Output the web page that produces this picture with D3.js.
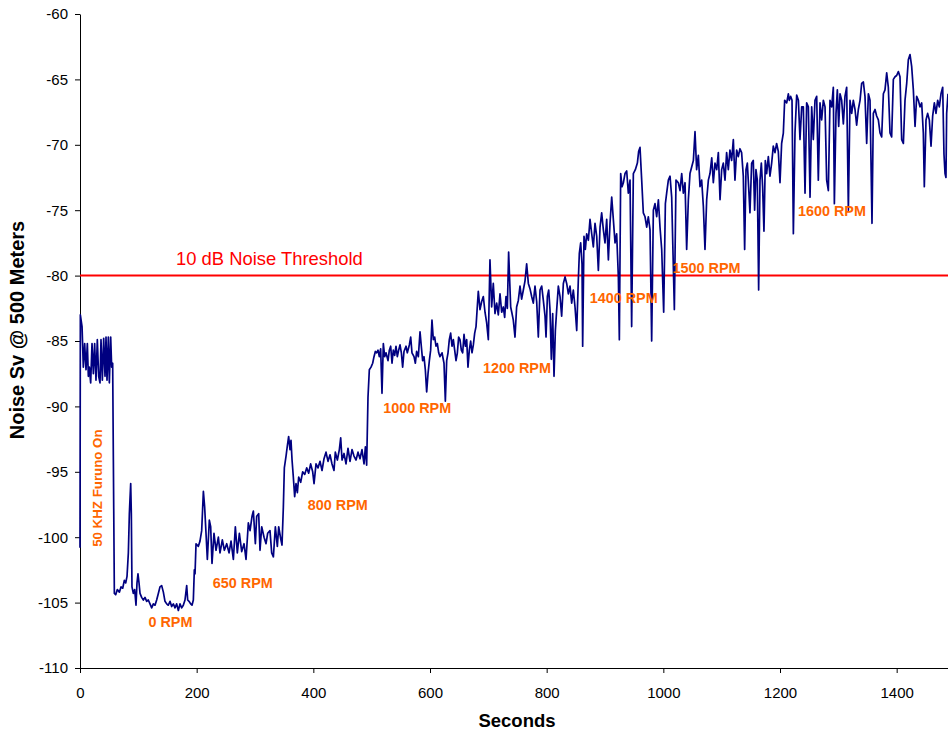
<!DOCTYPE html>
<html>
<head>
<meta charset="utf-8">
<script src="https://cdn.jsdelivr.net/npm/d3@7"></script>
<style>
  body { margin: 0; background: #fff; }
  svg { display: block; font-family: Arial, "Liberation Sans", sans-serif; }
</style>
</head>
<body>
<div id="container"></div>
<script>
/* CONSTANTS AND GLOBALS */
const width = 948,
  height = 732,
  margin = { top: 14, bottom: 64, left: 80, right: 0 };

/* DATA : [seconds, noise Sv dB] */
const furunoOn = [[0,-100.8],[0.6,-83.0],[3.5,-83.9],[5.7,-87.0],[8,-85.2],[10.3,-87.2],[12.6,-85.2],[14.3,-87.7],[16,-87.0],[18.3,-88.2],[20.6,-85.2],[22.9,-87.5],[25.1,-85.2],[27.4,-88.0],[29.7,-84.9],[32,-87.7],[34.3,-88.2],[36,-84.9],[38.3,-88.0],[40.6,-84.8],[42.9,-87.7],[44.6,-84.7],[46.3,-88.0],[48.6,-84.7],[50.3,-88.2],[52.6,-84.7],[54.3,-87.0],[56,-86.7],[57.2,-94.1]];

const rpm0 = [[58.9,-104.3],[61.2,-104.4],[64,-104.0],[67.5,-104.2],[70.3,-103.8],[73.2,-103.9],[76,-103.3],[78.3,-103.5],[80.6,-103.0],[82.9,-101.2],[84.6,-98.2],[86.9,-95.9],[88,-98.2],[89.1,-103.8],[91.4,-104.3],[93.7,-104.0],[96,-105.2],[97.7,-103.5],[99.4,-102.8],[101.2,-103.5],[102.9,-104.3],[105.7,-104.6],[108.6,-104.8],[111.4,-104.6],[114.3,-104.9],[117.1,-104.8],[120,-105.1],[122.9,-105.4],[125.7,-105.1],[128.6,-105.2],[131.4,-104.8],[134.3,-104.3],[137.1,-103.8],[140,-103.7],[142.9,-104.2],[145.7,-104.9],[148.6,-105.1],[151.4,-105.2],[154.3,-104.9],[157.1,-105.3],[160,-105.1],[162.9,-105.4],[165.7,-105.1],[168.6,-105.6],[171.4,-105.1],[174.3,-105.4],[177.1,-105.2],[180,-104.8],[182.9,-103.7],[184.6,-104.8],[186.9,-104.9],[189.7,-105.1],[192,-105.2],[194.3,-104.8],[196,-102.5]];

const rpm650 = [[197.2,-102.8],[198.9,-100.5],[202.9,-100.7],[205.7,-100.3],[208.6,-99.5],[211.5,-96.5],[213.7,-97.7],[216,-99.7],[218.3,-101.7],[221.7,-98.7],[224,-99.2],[226.3,-102.0],[229.7,-99.7],[233.2,-101.0],[237.2,-100.0],[240,-101.2],[244,-100.2],[247.5,-101.0],[251.5,-100.5],[255.5,-101.2],[258.9,-100.3],[262.9,-101.7],[266.3,-99.2],[269.7,-101.2],[273.2,-99.7],[277.2,-101.1],[281.2,-100.5],[284.6,-101.7],[288.6,-98.9],[291.5,-99.5],[294.9,-98.4],[297.2,-98.0],[300.6,-100.5],[302.9,-98.4],[306.3,-98.2],[308.6,-101.0],[311.5,-99.2],[315.5,-100.0],[318.9,-100.5],[321.7,-99.7],[325.7,-99.5],[328.6,-101.2],[331.5,-101.5],[334.9,-99.2],[338.3,-100.7],[340.6,-99.2],[344,-100.1],[346.3,-100.6],[348.6,-97.7]];

const rpm800 = [[350.3,-94.7],[353.2,-93.8],[355.5,-93.0],[357.7,-92.3],[360,-93.3],[361.7,-92.6],[363.5,-94.1],[365.7,-95.4],[368,-96.9],[370.3,-95.9],[372.6,-96.6],[374.9,-95.4],[378.3,-95.8],[381.7,-95.0],[385.2,-95.2],[388.6,-94.7],[392,-95.1],[395.4,-94.4],[398.9,-95.0],[401.2,-95.9],[404.6,-94.4],[408,-94.7],[411.5,-94.2],[414.9,-94.9],[418.3,-94.0],[421.7,-93.5],[425.2,-94.2],[428.6,-93.7],[432,-94.4],[435.4,-94.9],[437.7,-93.5],[441.2,-94.1],[444.6,-93.3],[446.9,-92.4],[449.2,-94.1],[452.6,-93.6],[456,-94.4],[459.4,-93.2],[462.9,-94.2],[466.3,-93.3],[469.7,-93.8],[473.2,-94.1],[476.6,-93.5],[480,-94.0],[483.4,-93.3],[486.9,-94.4],[489.2,-93.1],[491.4,-94.5],[493.7,-89.3]];

const rpm1000 = [[496,-87.2],[498.9,-87.0],[501.7,-86.7],[504,-86.2],[506.3,-85.8],[508.6,-85.9],[510.9,-85.7],[513.1,-86.2],[515.4,-85.6],[517.7,-89.0],[520,-85.2],[522.3,-86.2],[524.6,-85.9],[528,-86.5],[530.3,-85.7],[532.6,-85.4],[534.9,-86.7],[537.1,-85.7],[539.4,-86.1],[541.7,-85.4],[544,-86.2],[546.3,-85.7],[548.6,-85.3],[550.9,-85.9],[553.1,-87.0],[555.4,-85.8],[558.9,-85.4],[561.1,-85.9],[564.6,-85.3],[566.9,-84.7],[569.1,-85.9],[572.6,-86.2],[574.9,-86.7],[577.1,-85.8],[580,-86.2],[582.9,-84.3],[585.1,-85.4],[587.4,-86.5],[589.7,-86.2],[592,-87.2],[594.3,-88.9],[596.6,-87.5],[598.9,-86.5],[601.1,-85.7],[603.4,-83.4],[605.7,-84.9],[608,-84.7],[610.3,-85.4],[612.6,-85.2],[614.9,-85.9],[617.1,-86.2],[620.6,-85.9],[624,-86.7],[626.3,-89.6],[628.6,-86.5],[630.9,-85.9],[633.1,-84.9],[635.4,-84.4],[637.7,-85.4],[640,-84.9],[642.3,-85.7],[644.6,-86.5],[646.9,-85.9],[649.1,-84.7],[651.4,-84.9],[653.7,-85.7],[656,-85.9],[658.3,-84.5],[660.6,-85.4],[662.9,-84.9],[665.1,-87.0],[667.4,-85.7],[669.7,-85.0],[672,-85.9],[674.3,-85.3],[676.6,-84.4],[678.9,-83.9]];

const rpm1200 = [[682.8,-81.2],[685.7,-82.6],[688.5,-82.0],[691.4,-81.6],[694.3,-82.8],[697.1,-83.6],[700,-84.9],[702.8,-78.8],[705.7,-82.4],[708.5,-80.6],[711.4,-82.9],[714.3,-82.1],[717.1,-83.0],[720,-81.4],[722.9,-82.8],[725.7,-82.4],[728,-83.2],[730.3,-81.6],[732.6,-82.5],[734.8,-78.2],[738.3,-82.4],[740.6,-82.9],[742.8,-83.4],[745.7,-84.7],[748.5,-82.4],[751.4,-81.9],[754.3,-80.8],[757.1,-81.8],[760,-81.1],[762.9,-80.4],[765.7,-79.1],[768.6,-80.6],[771.4,-81.0],[774.3,-81.6],[777.1,-82.1],[780,-80.8],[782.9,-82.0],[785.7,-84.7],[788.6,-81.1],[791.5,-80.8],[794.3,-81.9],[797.2,-83.1],[798.9,-84.7],[801.2,-81.6],[803.5,-81.1],[805.7,-82.6],[808,-86.4],[810.3,-82.9],[812.6,-87.7],[814.9,-84.2],[817.2,-82.6],[820,-80.8],[822.9,-81.6],[825.7,-83.1],[828.6,-80.6],[831.5,-80.1],[834.3,-80.6],[837.2,-81.4],[840,-80.8],[842.9,-82.1],[845.7,-81.1],[848.6,-82.4],[851.5,-84.2],[854.3,-80.3]];

const rpm1400 = [[856,-78.3],[858.3,-77.5],[860.6,-79.1],[861.7,-85.4],[864,-77.0],[866.3,-78.0],[868.6,-76.8],[871.5,-77.3],[874.3,-75.7],[877.2,-76.8],[880,-77.8],[882.9,-76.0],[885.8,-77.0],[888.6,-79.6],[891.5,-76.3],[894.3,-75.2],[897.2,-76.5],[900,-77.5],[902.9,-75.7],[905.8,-78.8],[908.6,-76.0],[911.5,-74.0],[914.3,-75.7],[917.2,-77.5],[920,-76.8],[922.9,-80.1],[924.6,-84.9],[926.9,-72.2],[929.2,-73.2],[931.5,-72.9],[934.3,-72.2],[937.2,-72.0],[940,-73.7],[942.9,-72.7],[945.7,-83.9],[948.6,-72.2],[952,-71.9],[955.5,-71.4],[957.7,-70.5],[960,-70.2],[962.9,-72.7],[965.7,-75.2],[968.6,-75.5],[971.5,-76.3],[974.3,-75.5],[977.2,-76.5],[980,-85.0],[982.9,-75.0],[985.7,-74.5],[988.6,-75.5],[991.5,-74.2],[994.3,-76.3],[997.2,-78.0]];

const rpm1500 = [[1000.6,-82.8],[1003.5,-74.5],[1005.7,-73.7],[1008.6,-72.7],[1011.5,-72.4],[1014.3,-74.0],[1018.9,-82.6],[1021.7,-72.7],[1025.7,-72.9],[1028.6,-73.5],[1031.5,-72.2],[1034.3,-73.7],[1037.2,-72.9],[1040,-78.0],[1042.9,-74.2],[1045.7,-72.2],[1048.6,-71.7],[1051.5,-71.2],[1054.3,-69.0],[1057.1,-71.9],[1060,-70.8],[1062.9,-73.2],[1065.7,-72.7],[1068.6,-74.7],[1071.4,-78.0],[1074.3,-74.2],[1077.2,-72.7],[1080,-72.2],[1083,-71.0],[1085.7,-72.9],[1088.6,-71.4],[1091.5,-71.9],[1094.3,-70.6],[1097.2,-74.2],[1100,-71.9],[1102.8,-71.4],[1105.7,-72.7],[1108.5,-70.6],[1111.4,-71.9],[1114.2,-70.4],[1117.1,-71.2],[1120,-69.6],[1122.8,-72.7],[1125.7,-70.4],[1128.5,-70.9],[1131.4,-70.3],[1134.2,-70.6],[1137.1,-72.4],[1139.4,-78.0],[1141.7,-71.9],[1144,-71.4],[1146.2,-73.2],[1148.5,-75.2],[1151.4,-71.4],[1154.2,-71.2],[1156.5,-75.0],[1158.8,-71.9],[1161.1,-72.7],[1163.4,-81.1],[1165.7,-72.7],[1168,-71.4],[1170.2,-73.2],[1172.5,-76.6],[1174.8,-71.2],[1177.1,-72.2],[1180,-70.9],[1182.8,-72.4],[1185.7,-71.4],[1188.5,-70.1],[1191.4,-70.6],[1194.2,-69.9],[1197.1,-70.5],[1200,-72.9],[1202.8,-69.9],[1205.7,-69.1]];

const rpm1600 = [[1208,-66.6],[1211.5,-66.8],[1214.3,-66.1],[1216,-66.6],[1218.3,-66.3],[1220.6,-66.6],[1222.9,-76.8],[1225.7,-69.1],[1228.6,-66.2],[1231.5,-66.6],[1234.3,-69.6],[1237.2,-67.1],[1240,-67.1],[1242.9,-73.7],[1245.7,-66.8],[1248.6,-67.1],[1251.5,-74.0],[1254.3,-67.1],[1257.1,-69.6],[1260,-66.6],[1262.9,-66.3],[1265.7,-72.7],[1268.6,-66.8],[1271.4,-68.1],[1274.3,-66.6],[1277.2,-67.1],[1280,-72.7],[1282.9,-73.5],[1285.7,-66.6],[1288.6,-67.1],[1291.4,-65.6],[1293.2,-74.5],[1296,-67.6],[1298.3,-65.8],[1300.6,-68.6],[1302.9,-66.1],[1305.7,-66.6],[1308.6,-68.4],[1311.4,-66.3],[1314.3,-65.6],[1317.2,-75.0],[1320,-66.6],[1322.9,-67.6],[1325.7,-66.6],[1328.6,-67.3],[1331.4,-68.5],[1334.3,-67.3],[1337.2,-66.6],[1340,-65.3],[1342.9,-65.2],[1345.7,-66.3],[1348.6,-69.9],[1351.5,-66.1],[1354.3,-66.6],[1357.7,-76.0],[1360,-67.6],[1362.9,-67.3],[1365.7,-67.8],[1368.6,-68.1],[1371.5,-69.1],[1374.3,-69.4],[1377.2,-66.1],[1380,-65.8],[1382.9,-64.5],[1385.7,-65.6],[1388.6,-69.1],[1391.4,-69.4],[1394.3,-65.0],[1397.2,-64.8],[1400,-64.7],[1402.9,-64.4],[1405.7,-64.8],[1408.6,-69.6],[1411.5,-69.9],[1414.3,-66.6],[1417.2,-65.3],[1420,-63.5],[1422.9,-63.1],[1425.7,-64.0],[1428.6,-65.8],[1431.5,-68.6],[1434.3,-66.3],[1437.2,-66.6],[1440,-67.1],[1442.9,-66.8],[1445.7,-69.1],[1447.4,-73.2],[1450.3,-68.1],[1453.1,-67.6],[1456,-68.1],[1458.9,-70.1],[1461.7,-67.8],[1464.6,-66.8],[1467.4,-67.6],[1470.3,-66.6],[1473.1,-67.1],[1476,-66.1],[1478.9,-65.6],[1481.1,-70.7],[1482.9,-72.2],[1484.5,-72.5],[1485.7,-67.6],[1488,-66.1]];

const xTicks = [0, 200, 400, 600, 800, 1000, 1200, 1400];
const yTicks = [-110, -105, -100, -95, -90, -85, -80, -75, -70, -65, -60];
const threshold = -80;
const thresholdLabel = "10 dB Noise Threshold";

// annotation text + anchor in data units
const annotations = [
  { text: "0 RPM", t: 155, v: -106.9 },
  { text: "650 RPM", t: 279, v: -103.9 },
  { text: "800 RPM", t: 442, v: -97.9 },
  { text: "1000 RPM", t: 578, v: -90.5 },
  { text: "1200 RPM", t: 749, v: -87.45 },
  { text: "1400 RPM", t: 932, v: -82.1 },
  { text: "1500 RPM", t: 1074, v: -79.8 },
  { text: "1600 RPM", t: 1289, v: -75.45 }
];
const furunoLabel = { text: "50 KHZ Furuno On", t: 37.7, v: -96.25 };

const series = [].concat(furunoOn, rpm0, rpm650, rpm800, rpm1000, rpm1200, rpm1400, rpm1500, rpm1600);

/* SCALES */
const xScale = d3.scaleLinear()
  .domain([0, 1488])
  .range([margin.left, width - margin.right]);

const yScale = d3.scaleLinear()
  .domain([-110, -60])
  .range([height - margin.bottom, margin.top]);

/* HTML ELEMENTS */
const svg = d3.select("#container")
  .append("svg")
  .attr("width", width)
  .attr("height", height);

// axes (plain hyphen minus, no thousands separator)
const plain = d => String(d);

const xAxis = d3.axisBottom(xScale)
  .tickValues(xTicks)
  .tickFormat(plain)
  .tickSize(5)
  .tickSizeOuter(0)
  .tickPadding(14);
const gx = svg.append("g")
  .attr("transform", `translate(0, ${height - margin.bottom})`)
  .call(xAxis);

const yAxis = d3.axisLeft(yScale)
  .tickValues(yTicks)
  .tickFormat(plain)
  .tickSize(5)
  .tickSizeOuter(0)
  .tickPadding(7);
const gy = svg.append("g")
  .attr("transform", `translate(${margin.left}, 0)`)
  .call(yAxis);

[gx, gy].forEach(g => {
  g.selectAll("text").attr("font-size", 15).attr("font-family", "Arial, 'Liberation Sans', sans-serif").attr("fill", "#000");
  g.selectAll("line, path").attr("stroke", "#000");
});

// threshold line
svg.append("line")
  .attr("x1", xScale(0))
  .attr("x2", width)
  .attr("y1", yScale(threshold))
  .attr("y2", yScale(threshold))
  .attr("stroke", "#ff0000")
  .attr("stroke-width", 2);

svg.append("text")
  .attr("x", xScale(164.6))
  .attr("y", yScale(-79.2))
  .attr("fill", "#ff0000")
  .attr("font-size", 18.4)
  .text(thresholdLabel);

// noise line
const line = d3.line()
  .x(d => xScale(d[0]))
  .y(d => yScale(d[1]));

svg.append("path")
  .datum(series)
  .attr("d", line)
  .attr("fill", "none")
  .attr("stroke", "#000080")
  .attr("stroke-width", 1.7)
  .attr("stroke-linejoin", "round");

// rpm labels
svg.selectAll("text.rpm")
  .data(annotations)
  .join("text")
  .attr("class", "rpm")
  .attr("x", d => xScale(d.t))
  .attr("y", d => yScale(d.v))
  .attr("text-anchor", "middle")
  .attr("font-size", 14.4)
  .attr("font-weight", "bold")
  .attr("fill", "#ff6600")
  .text(d => d.text);

svg.append("text")
  .attr("transform", `translate(${xScale(furunoLabel.t)}, ${yScale(furunoLabel.v)}) rotate(-90)`)
  .attr("text-anchor", "middle")
  .attr("font-size", 13.3)
  .attr("font-weight", "bold")
  .attr("fill", "#ff6600")
  .text(furunoLabel.text);

// axis titles
svg.append("text")
  .attr("x", 517)
  .attr("y", 727)
  .attr("text-anchor", "middle")
  .attr("font-size", 18.5)
  .attr("font-weight", "bold")
  .text("Seconds");

svg.append("text")
  .attr("transform", "translate(24, 330) rotate(-90)")
  .attr("text-anchor", "middle")
  .attr("font-size", 20)
  .attr("font-weight", "bold")
  .text("Noise Sv @ 500 Meters");
</script>
</body>
</html>
